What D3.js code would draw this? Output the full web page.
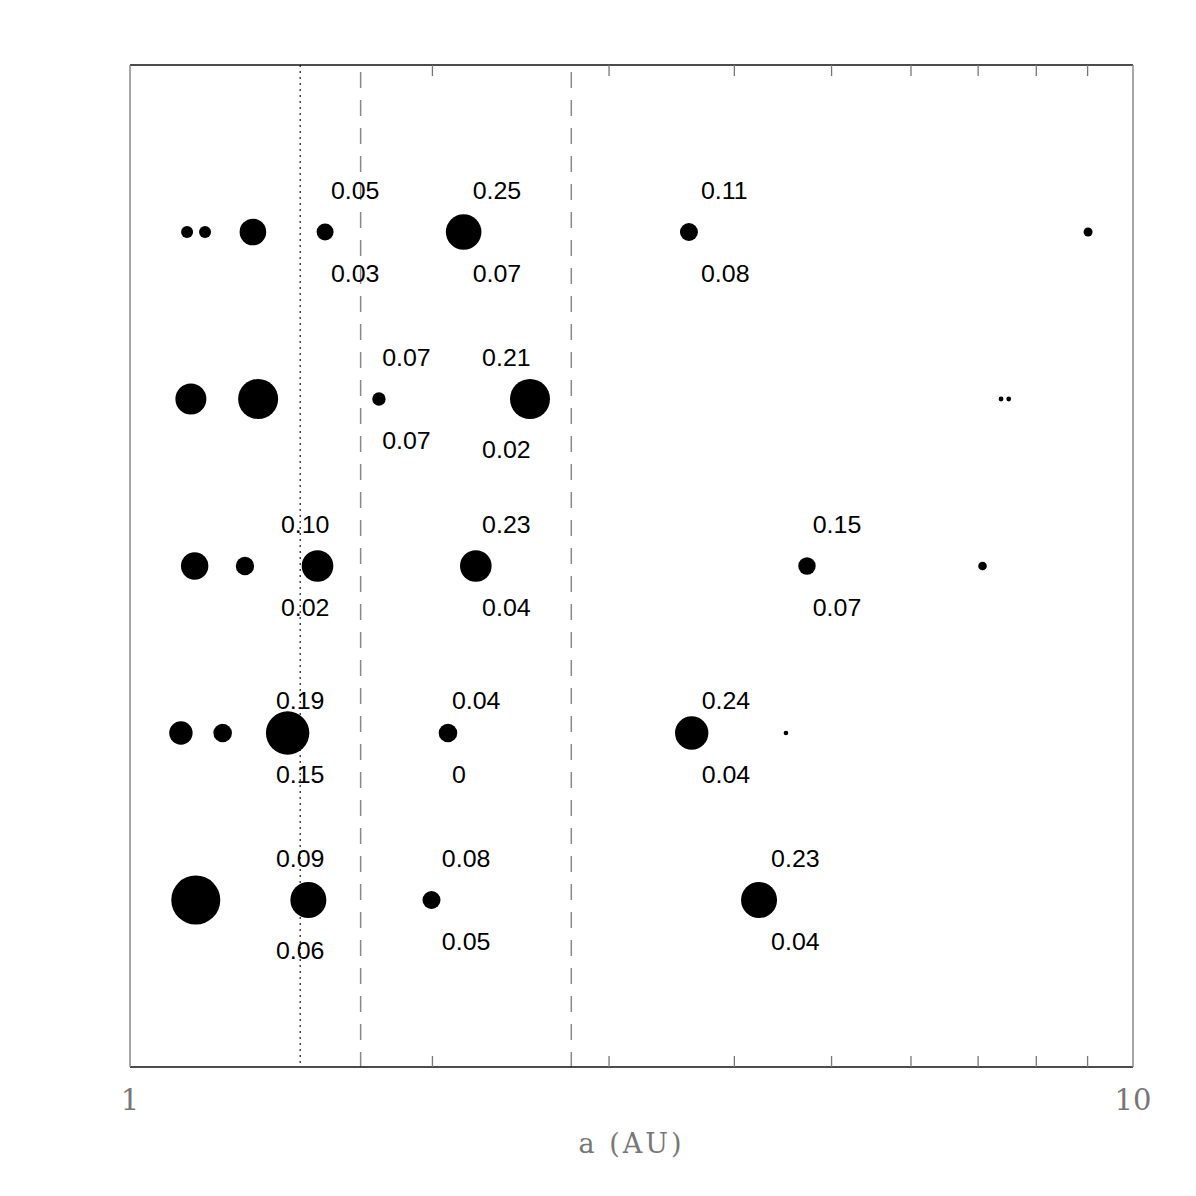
<!DOCTYPE html>
<html>
<head>
<meta charset="utf-8">
<script src="https://cdn.jsdelivr.net/npm/d3@7"></script>
<style>
  html, body { margin: 0; padding: 0; background: #fff; }
  svg { display: block; }
</style>
</head>
<body>
<script>
// ---- data ----
// semimajor axis (AU) of bodies in each simulated system (rows top -> bottom)
const rowIds = [5, 4, 3, 2, 1];
const row1A = [1.140, 1.188, 1.326, 1.565, 2.151, 3.608, 9.02];
const row1R = [6, 6, 13.3, 8.5, 17.8, 9, 4.5];
const row2A = [1.150, 1.342, 1.771, 2.505, 7.386, 7.518];
const row2R = [15.5, 20, 6.7, 20, 2.4, 2.4];
const row3A = [1.160, 1.302, 1.538, 2.212, 4.731, 7.079];
const row3R = [13.7, 9.2, 15.8, 15.8, 8.7, 4.3];
const row4A = [1.124, 1.237, 1.436, 2.075, 3.631, 4.508];
const row4R = [11.7, 9.3, 21.7, 9.3, 16.7, 2.3];
const row5A = [1.163, 1.506, 1.998, 4.238];
const row5R = [24.5, 18, 9, 18];
const rowsA = [row1A, row2A, row3A, row4A, row5A];
const rowsR = [row1R, row2R, row3R, row4R, row5R];

// annotations: row, a (AU) of label anchor, upper value, lower value
const labelRow   = [5, 5, 5, 4, 4, 3, 3, 3, 2, 2, 2, 1, 1, 1];
const labelA     = [1.586, 2.196, 3.709, 1.784, 2.244, 1.414, 2.244, 4.794, 1.398, 2.094, 3.715, 1.398, 2.046, 4.357];
const labelUpper = ["0.05","0.25","0.11","0.07","0.21","0.10","0.23","0.15","0.19","0.04","0.24","0.09","0.08","0.23"];
const labelLower = ["0.03","0.07","0.08","0.07","0.02","0.02","0.04","0.07","0.15","0","0.04","0.06","0.05","0.04"];
const labelUpOff = [0.2, 0.2, 0.2, 0.2, 0.2, 0.2, 0.2, 0.2, 0.145, 0.145, 0.145, 0.2, 0.2, 0.2];
const labelLoOff = [0.3, 0.3, 0.3, 0.3, 0.355, 0.3, 0.3, 0.3, 0.3, 0.3, 0.3, 0.355, 0.3, 0.3];

// reference lines (AU)
const dottedLines = [1.478];
const dashedLines = [1.698, 2.754];
const xDomain = [1, 10];
const xTickLabels = ["1", "10"];
const yDomain = [0, 6];

// ---- layout ----
const W = 1196, H = 1196;
const L = 130, R = 1133, T = 65, B = 1067;

const svg = d3.select("body").append("svg").attr("width", W).attr("height", H);

const x = d3.scaleLog().domain(xDomain).range([L, R]);
const y = d3.scaleLinear().domain(yDomain).range([B, T]);
const rS = d3.scaleLinear().domain([0, 25]).range([0, 25]);

// reference lines
svg.selectAll(".dotted").data(dottedLines).enter().append("line")
  .attr("x1", d => x(d)).attr("x2", d => x(d))
  .attr("y1", T).attr("y2", B)
  .attr("stroke", "#000").attr("stroke-width", 1.1)
  .attr("stroke-dasharray", "2,4");

svg.selectAll(".dashed").data(dashedLines).enter().append("line")
  .attr("x1", d => x(d)).attr("x2", d => x(d))
  .attr("y1", T + 7).attr("y2", B)
  .attr("stroke", "#888").attr("stroke-width", 1.5)
  .attr("stroke-dasharray", "16,12");

// frame
svg.append("line").attr("x1", L).attr("x2", R).attr("y1", T).attr("y2", T)
  .attr("stroke", "#111").attr("stroke-width", 1.5);
svg.append("line").attr("x1", L).attr("x2", R).attr("y1", B).attr("y2", B)
  .attr("stroke", "#111").attr("stroke-width", 1.5);
svg.append("line").attr("x1", L).attr("x2", L).attr("y1", T).attr("y2", B)
  .attr("stroke", "#888").attr("stroke-width", 1.5);
svg.append("line").attr("x1", R).attr("x2", R).attr("y1", T).attr("y2", B)
  .attr("stroke", "#888").attr("stroke-width", 1.5);

// axes via d3 (minor ticks)
const minorTicks = x.ticks().filter(v => v > 1 && v < 10);
const axB = d3.axisBottom(x).tickValues(minorTicks).tickSize(-11).tickFormat("");
const axT = d3.axisTop(x).tickValues(minorTicks).tickSize(-11).tickFormat("");
const gB = svg.append("g").attr("transform", `translate(0,${B})`).call(axB);
const gT = svg.append("g").attr("transform", `translate(0,${T})`).call(axT);
[gB, gT].forEach(g => {
  g.select(".domain").remove();
  g.selectAll(".tick line").attr("stroke", "#777").attr("stroke-width", 1.3);
});

// tick labels 1 and 10
svg.selectAll(".xl").data(xDomain).enter().append("text")
  .attr("x", d => x(d)).attr("y", 1110)
  .attr("text-anchor", "middle")
  .attr("font-family", "'DejaVu Serif', 'Liberation Serif', serif")
  .attr("font-size", 29).attr("fill", "#777")
  .text((d, i) => xTickLabels[i]);

svg.append("text")
  .attr("x", (L + R) / 2).attr("y", 1153)
  .attr("text-anchor", "middle")
  .attr("font-family", "'DejaVu Serif', 'Liberation Serif', serif")
  .attr("font-size", 27).attr("fill", "#777")
  .attr("letter-spacing", 3)
  .text("a (AU)");

// bodies
rowsA.forEach((arr, i) => {
  const pts = arr.map((a, j) => ({ a, r: rowsR[i][j], row: rowIds[i] }));
  svg.append("g").selectAll("circle").data(pts).enter().append("circle")
    .attr("cx", d => x(d.a)).attr("cy", d => y(d.row))
    .attr("r", d => rS(d.r)).attr("fill", "#000");
});

// annotations
const labels = labelRow.map((row, i) => ({
  row, a: labelA[i], up: labelUpper[i], lo: labelLower[i],
  upOff: labelUpOff[i], loOff: labelLoOff[i]
}));
const lg = svg.append("g")
  .attr("font-family", "'Liberation Sans', Arial, Helvetica, sans-serif")
  .attr("font-size", 24).attr("fill", "#000");
labels.forEach(d => {
  lg.append("text")
    .attr("transform", `translate(${x(d.a)},${y(d.row + d.upOff)}) scale(1.04,1)`)
    .text(d.up);
  lg.append("text")
    .attr("transform", `translate(${x(d.a)},${y(d.row - d.loOff)}) scale(1.04,1)`)
    .text(d.lo);
});
</script>
</body>
</html>
